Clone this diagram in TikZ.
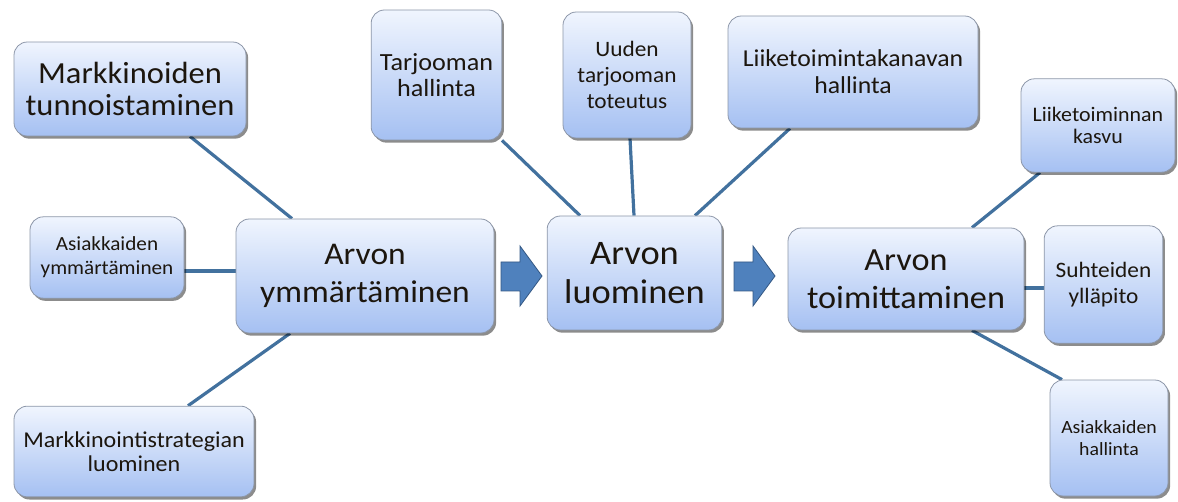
\documentclass[tikz,border=0pt]{standalone}
\usepackage{fontspec}
\setmainfont{Carlito}[FakeStretch=1.06]
\usetikzlibrary{shadows,backgrounds}
\definecolor{linec}{RGB}{66,113,158}
\definecolor{arrfill}{RGB}{79,129,189}
\definecolor{arrdraw}{RGB}{52,88,132}
\definecolor{boxtop}{RGB}{240,245,254}
\definecolor{boxbot}{RGB}{165,192,242}
\definecolor{boxdraw}{RGB}{140,150,168}
\definecolor{txt}{RGB}{28,22,14}
\tikzset{
  box/.style={draw=boxdraw, line width=0.6pt, rounded corners=10pt, top color=boxtop, bottom color=boxbot,
    drop shadow={shadow xshift=1.6pt, shadow yshift=-2pt, fill=black, opacity=0.45},
    align=center, text=txt, inner sep=2pt},
  conn/.style={draw=linec, line width=2.4pt},
  blockarrow/.style={fill=arrfill, draw=arrdraw, line width=0.6pt}
}
\begin{document}
\begin{tikzpicture}[x=0.75pt,y=-0.75pt]
\useasboundingbox (0,0) rectangle (1178,502);
% left
\node[box, minimum width=174pt, minimum height=70.5pt, font=\fontsize{23}{24}\selectfont] (mt) at (130,89) {Markkinoiden\\tunnoistaminen};
\node[box, minimum width=115.5pt, minimum height=61pt, font=\fontsize{15}{18}\selectfont] (ay) at (107,257.5) {Asiakkaiden\\ymmärtäminen};
\node[box, minimum width=180pt, minimum height=68pt, font=\fontsize{17}{18}\selectfont] (ms) at (134,451.5) {Markkinointistrategian\\luominen};
\node[box, minimum width=193.5pt, minimum height=85.5pt, font=\fontsize{23.7}{28.5}\selectfont] (ym) at (365,276) {Arvon\\ymmärtäminen};
% middle
\node[box, minimum width=131pt, minimum height=85.5pt, font=\fontsize{25.8}{29}\selectfont] (lu) at (634.5,273) {Arvon\\luominen};
\node[box, minimum width=98pt, minimum height=97.5pt, font=\fontsize{18.5}{19.5}\selectfont] (th) at (436.5,75) {Tarjooman\\hallinta};
\node[box, minimum width=96pt, minimum height=94.5pt, font=\fontsize{16.5}{19.5}\selectfont] (ut) at (627,75) {Uuden\\tarjooman\\toteutus};
\node[box, minimum width=187.5pt, minimum height=84pt, font=\fontsize{18.2}{20.5}\selectfont] (lk) at (853,72) {Liiketoimintakanavan\\hallinta};
% right
\node[box, minimum width=177pt, minimum height=76.5pt, font=\fontsize{24.2}{28.5}\selectfont] (to) at (906,279) {Arvon\\toimittaminen};
\node[box, minimum width=115.5pt, minimum height=70pt, font=\fontsize{15.5}{17}\selectfont] (kv) at (1098,125.5) {Liiketoiminnan\\kasvu};
\node[box, minimum width=89pt, minimum height=88pt, font=\fontsize{16.5}{19.5}\selectfont] (su) at (1103.5,284.5) {Suhteiden\\ylläpito};
\node[box, minimum width=88.5pt, minimum height=87pt, font=\fontsize{14}{16}\selectfont] (ah) at (1109,438) {Asiakkaiden\\hallinta};
% block arrows
\fill[blockarrow] (501,262) -- (520,262) -- (520,246) -- (542,276) -- (520,306) -- (520,291) -- (501,291) -- cycle;
\fill[blockarrow] (734,262) -- (753,262) -- (753,246) -- (775,276) -- (753,306) -- (753,291) -- (734,291) -- cycle;
% connectors
\begin{scope}[on background layer]
\draw[conn] (190,0 |- mt.south) -- (292,0 |- ym.north);
\draw[conn] (ay.east |- 0,271) -- (ym.west |- 0,271);
\draw[conn] (188,0 |- ms.north) -- (290,0 |- ym.south);
\draw[conn] (502,0 |- th.south) -- (580,0 |- lu.north);
\draw[conn] (630,0 |- ut.south) -- (634,0 |- lu.north);
\draw[conn] (790,0 |- lk.south) -- (695,0 |- lu.north);
\draw[conn] (1040,0 |- kv.south) -- (972,0 |- to.north);
\draw[conn] (to.east |- 0,288) -- (su.west |- 0,288);
\draw[conn] (972,0 |- to.south) -- (1062,0 |- ah.north);
\end{scope}
\end{tikzpicture}
\end{document}
